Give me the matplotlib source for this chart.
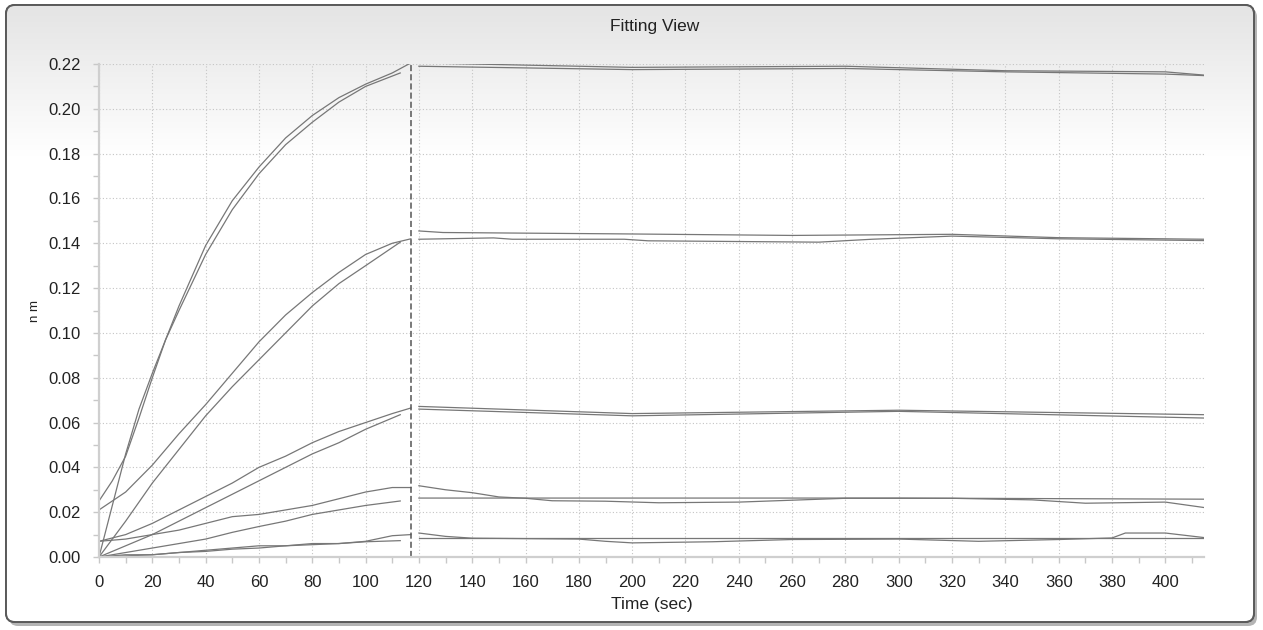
import matplotlib.pyplot as plt
import numpy as np
from matplotlib.patches import FancyBboxPatch
from matplotlib.ticker import MultipleLocator

plt.rcParams.update({
    "font.family": ["Liberation Sans", "DejaVu Sans"],
    "font.size": 12,
})

# association phase: fitted curves run to the switch time, measured traces stop a bit earlier
t_fit = [0, 10, 20, 30, 40, 50, 60, 70, 80, 90, 100, 110, 117]
t_obs = [0, 10, 20, 30, 40, 50, 60, 70, 80, 90, 100, 113]

t_fit_1 = [0, 5, 10, 15, 20, 25, 30, 40, 50, 60, 70, 80, 90, 100, 110, 117]
t_obs_1 = [0, 5, 10, 15, 20, 25, 30, 40, 50, 60, 70, 80, 90, 100, 113]
assoc_fit_1 = [0.025, 0.034, 0.045, 0.062, 0.080, 0.097, 0.112, 0.139, 0.159, 0.174,
               0.187, 0.197, 0.205, 0.211, 0.216, 0.2205]
assoc_obs_1 = [0.0, 0.023, 0.046, 0.066, 0.082, 0.097, 0.110, 0.135, 0.155, 0.171,
               0.184, 0.194, 0.203, 0.210, 0.216]

assoc_fit_2 = [0.021, 0.029, 0.041, 0.055, 0.068, 0.082, 0.096, 0.108, 0.118, 0.127, 0.135, 0.140, 0.142]
assoc_obs_2 = [0.0, 0.016, 0.033, 0.048, 0.063, 0.076, 0.088, 0.100, 0.112, 0.122, 0.130, 0.1405]

assoc_fit_3 = [0.007, 0.010, 0.015, 0.021, 0.027, 0.033, 0.040, 0.045, 0.051, 0.056, 0.060, 0.064, 0.0665]
assoc_obs_3 = [0.0, 0.005, 0.010, 0.016, 0.022, 0.028, 0.034, 0.040, 0.046, 0.051, 0.057, 0.0635]

assoc_fit_4 = [0.007, 0.008, 0.010, 0.012, 0.015, 0.018, 0.019, 0.021, 0.023, 0.026, 0.029, 0.031, 0.031]
assoc_obs_4 = [0.0, 0.002, 0.004, 0.006, 0.008, 0.011, 0.0136, 0.016, 0.019, 0.021, 0.023, 0.025]

assoc_fit_5 = [0.0, 0.001, 0.001, 0.002, 0.003, 0.004, 0.005, 0.005, 0.006, 0.006, 0.007, 0.0095, 0.010]
assoc_obs_5 = [0.0, 0.0005, 0.001, 0.002, 0.0025, 0.0035, 0.004, 0.005, 0.0055, 0.006, 0.0068, 0.0073]

# dissociation phase
t_d1 = [120, 200, 280, 340, 400, 415]
dis_a_1 = [0.2205, 0.2185, 0.2190, 0.2170, 0.2165, 0.2150]
dis_b_1 = [0.2190, 0.2175, 0.2180, 0.2165, 0.2155, 0.2148]

t_d2a = [120, 129, 195, 260, 320, 360, 415]
dis_a_2 = [0.1455, 0.1448, 0.1442, 0.1435, 0.1440, 0.1425, 0.1418]
t_d2b = [120, 148, 155, 197, 206, 270, 290, 320, 360, 415]
dis_b_2 = [0.1418, 0.1424, 0.1418, 0.1418, 0.1411, 0.1405, 0.1418, 0.1432, 0.1420, 0.1412]

t_d3 = [120, 200, 300, 415]
dis_a_3 = [0.0672, 0.0640, 0.0655, 0.0635]
dis_b_3 = [0.0660, 0.0630, 0.0650, 0.0620]

t_d4a = [120, 130, 140, 150, 160, 170, 190, 210, 240, 280, 320, 350, 370, 400, 415]
dis_a_4 = [0.0318, 0.0300, 0.0287, 0.0268, 0.0262, 0.0251, 0.0249, 0.0242, 0.0245,
           0.0262, 0.0262, 0.0255, 0.0240, 0.0245, 0.0220]
t_d4b = [120, 200, 300, 415]
dis_b_4 = [0.0263, 0.0263, 0.0263, 0.0258]

t_d5a = [120, 130, 140, 180, 190, 200, 230, 260, 300, 330, 360, 380, 385, 400, 415]
dis_a_5 = [0.0107, 0.0092, 0.0084, 0.0080, 0.0070, 0.0063, 0.0068, 0.0078, 0.0080,
           0.0070, 0.0078, 0.0085, 0.0107, 0.0107, 0.0086]
t_d5b = [120, 200, 300, 415]
dis_b_5 = [0.0085, 0.0085, 0.0085, 0.0085]

t_switch = 117

W, H = 1263, 630
fig = plt.figure(figsize=(W / 100, H / 100), dpi=100, facecolor="white")

# window frame with shadow and a light gradient on top
bg = fig.add_axes([0, 0, 1, 1], zorder=-5)
bg.set_xlim(0, W)
bg.set_ylim(H, 0)
bg.axis("off")
shadow = FancyBboxPatch((9, 8), 1248, 618, boxstyle="round,pad=0,rounding_size=9",
                        facecolor="#b4b4b4", edgecolor="none")
bg.add_patch(shadow)
frame = FancyBboxPatch((6, 5), 1248, 617, boxstyle="round,pad=0,rounding_size=9",
                       facecolor="white", edgecolor="#5a5a5a", linewidth=1.4)
bg.add_patch(frame)
grad = np.linspace(0, 1, 256).reshape(-1, 1)
grad = np.clip(grad * 617 / 150, 0, 1)
rgb = (0.895 + 0.105 * grad)[..., None] * np.ones(3)
im = bg.imshow(rgb, extent=(6, 1254, 622, 5), aspect="auto", zorder=1)
im.set_clip_path(frame)
edge = FancyBboxPatch((6, 5), 1248, 617, boxstyle="round,pad=0,rounding_size=9",
                      facecolor="none", edgecolor="#5a5a5a", linewidth=1.4, zorder=2)
bg.add_patch(edge)

ax = fig.add_axes([99 / W, 73 / H, (1204 - 99) / W, (557 - 64) / H])
ax.set_facecolor("none")

line_kw = dict(color="#777777", linewidth=0.9)
ax.plot(t_fit_1, assoc_fit_1, **line_kw)
ax.plot(t_obs_1, assoc_obs_1, **line_kw)
for fit, obs in [(assoc_fit_2, assoc_obs_2), (assoc_fit_3, assoc_obs_3),
                 (assoc_fit_4, assoc_obs_4), (assoc_fit_5, assoc_obs_5)]:
    ax.plot(t_fit, fit, **line_kw)
    ax.plot(t_obs, obs, **line_kw)

for t, y in [(t_d1, dis_a_1), (t_d1, dis_b_1), (t_d2a, dis_a_2), (t_d2b, dis_b_2),
             (t_d3, dis_a_3), (t_d3, dis_b_3), (t_d4a, dis_a_4), (t_d4b, dis_b_4),
             (t_d5a, dis_a_5), (t_d5b, dis_b_5)]:
    ax.plot(t, y, **line_kw)

ax.axvline(t_switch, color="#555555", linewidth=1.1, linestyle=(0, (4, 2)))

ax.set_xlim(0, 414.5)
ax.set_ylim(0, 0.22)
ax.xaxis.set_major_locator(MultipleLocator(20))
ax.xaxis.set_minor_locator(MultipleLocator(10))
ax.yaxis.set_major_locator(MultipleLocator(0.02))
ax.yaxis.set_minor_locator(MultipleLocator(0.01))
ax.yaxis.set_major_formatter(lambda v, p: f"{v:.2f}")

ax.grid(True, which="major", color="#c4c4c4", linewidth=0.8, linestyle=(0, (1, 2)))
for side in ["top", "right"]:
    ax.spines[side].set_visible(False)
for side in ["left", "bottom"]:
    ax.spines[side].set_color("#cfcfcf")
    ax.spines[side].set_linewidth(1.6)
ax.tick_params(which="both", direction="out", color="#c8c8c8", length=4, width=1,
               labelcolor="#222222", labelsize=12)
ax.tick_params(axis="x", pad=9)
ax.tick_params(axis="y", pad=9)

ax.set_xlabel("Time (sec)", fontsize=12.5, color="#222222", labelpad=5)
ax.set_ylabel("n m", fontsize=9.5, color="#222222", labelpad=5)
fig.text(655 / W, 1 - 27 / H, "Fitting View", ha="center", va="center",
         fontsize=12.5, color="#222222")

fig.savefig("out.png", dpi=100)
